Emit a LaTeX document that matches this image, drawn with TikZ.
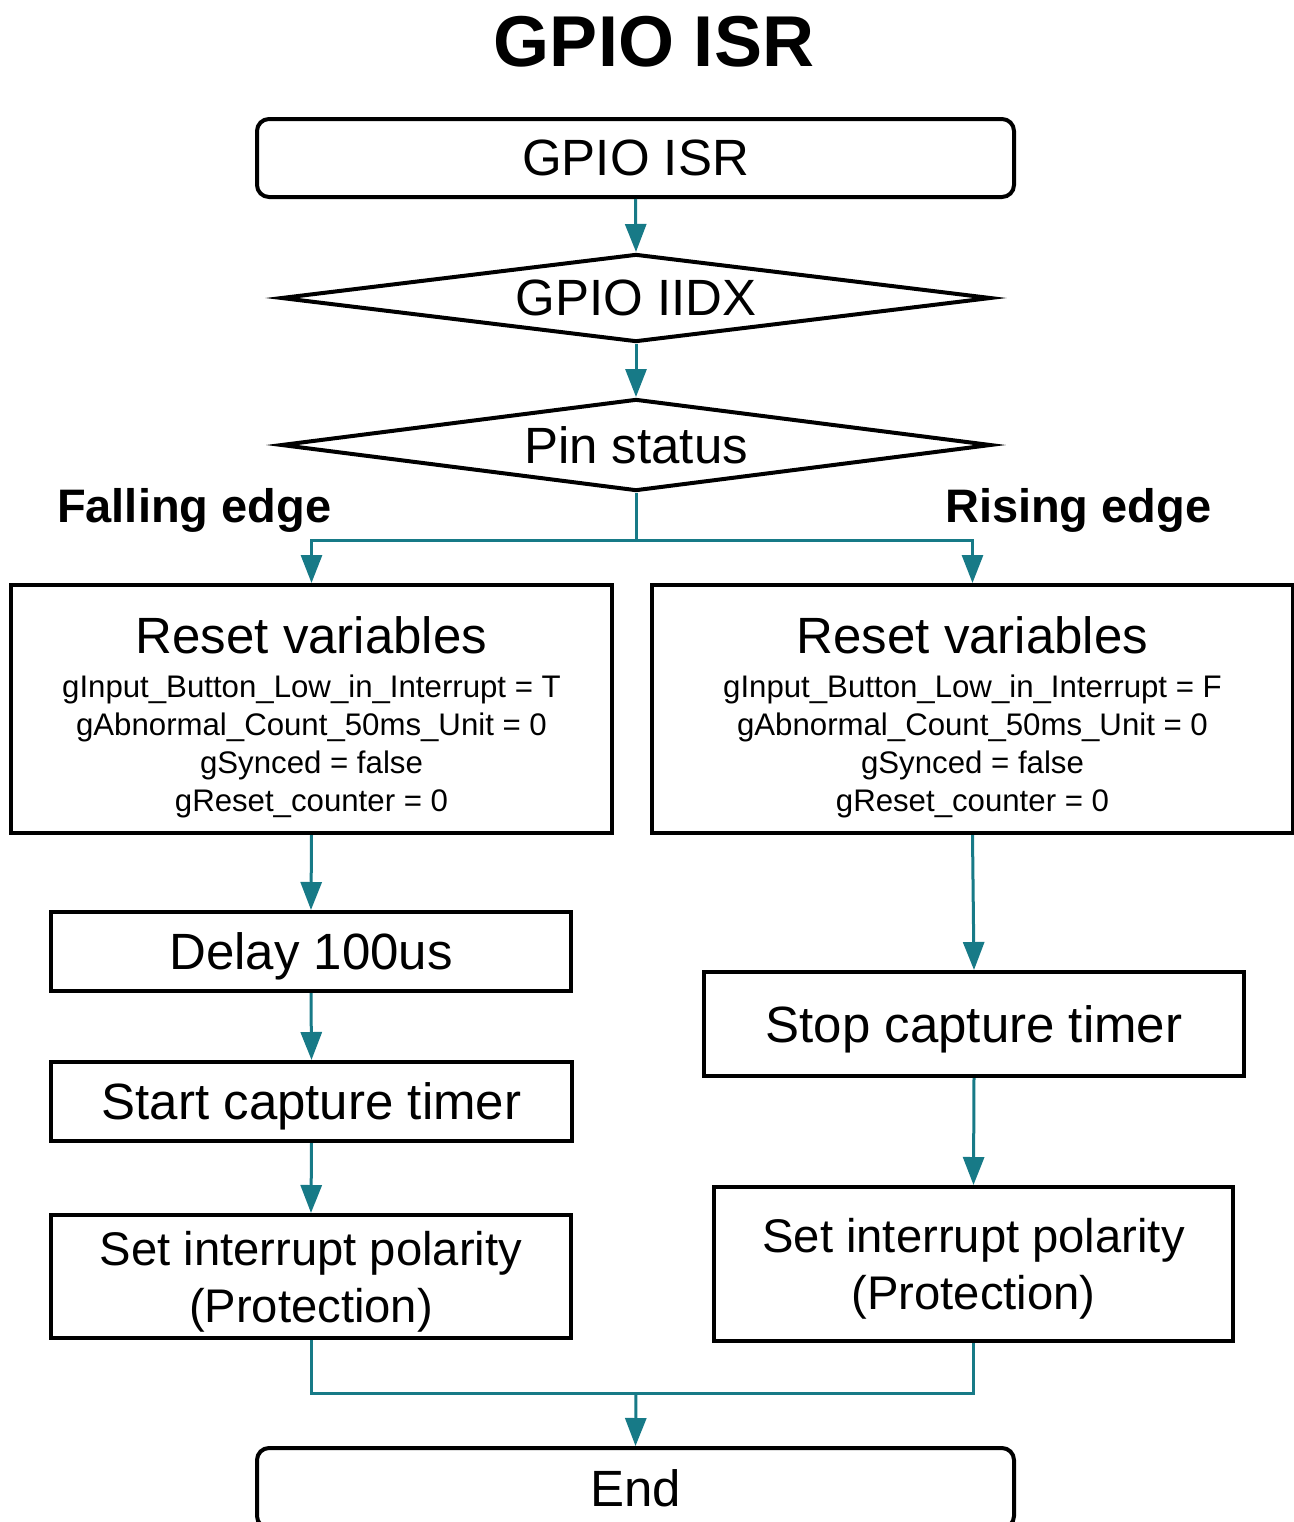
\documentclass[tikz,border=0pt]{standalone}
\usepackage{fontspec}
\setmainfont{Liberation Sans}
\usepackage{tikz}
\usetikzlibrary{shapes}
\usetikzlibrary{arrows.meta}
\definecolor{flowteal}{RGB}{23,122,135}
\newcommand{\flowbig}{\fontsize{25.5}{28.5}\selectfont}
\newcommand{\flowmid}{\fontsize{23.6}{28.5}\selectfont}
\newcommand{\flowsmall}{\fontsize{15.6}{19}\selectfont}
\tikzstyle{terminal} = [rectangle, rounded corners=6pt, minimum width=378.5pt, minimum height=39pt, text centered, text depth=0pt, draw=black, line width=2pt, font=\flowbig]
\tikzstyle{decision} = [diamond, aspect=8, inner sep=0pt, minimum width=355pt, text centered, draw=black, line width=2pt, font=\flowbig]
\tikzstyle{process} = [rectangle, text centered, text depth=0pt, align=center, draw=black, line width=2pt, font=\flowbig]
\tikzstyle{branch} = [anchor=west, font=\fontsize{23.5}{28}\selectfont\bfseries]
\tikzstyle{line} = [line width=1.5pt, draw=flowteal]
\tikzstyle{arrow} = [line width=1.5pt, draw=flowteal, -{Triangle[length=14pt, width=10.5pt]}]

\begin{document}
\begin{tikzpicture}[x=0.5pt, y=-0.5pt]
  \useasboundingbox (0,0) rectangle (1294,1522);

  \node(title)[font=\fontsize{36}{40}\selectfont\bfseries] at (654,42) {GPIO ISR};
  \node(start)[terminal] at (635.5,158) {GPIO ISR};
  \node(iidx)[decision, minimum height=44pt] at (636,298) {GPIO IIDX};
  \node(pin)[decision, minimum height=46pt] at (636,445) {Pin status};
  \node(falling)[branch] at (50,510) {Falling edge};
  \node(rising)[branch] at (938,510) {Rising edge};

  % falling edge branch
  \node(resetL)[process, minimum width=300.5pt, minimum height=124pt, font=\flowsmall] at (311.5,709)
    {\rule{0pt}{23.5pt}{\flowbig Reset variables}\\[3pt]
     gInput\_Button\_Low\_in\_Interrupt = T\\
     gAbnormal\_Count\_50ms\_Unit = 0\\
     gSynced = false\\
     gReset\_counter = 0};
  \node(delay)[process, minimum width=260pt, minimum height=39.5pt] at (311,951.5) {Delay 100us};
  \node(startcap)[process, minimum width=260.5pt, minimum height=39.5pt] at (311.5,1101.5) {Start capture timer};
  \node(setL)[process, minimum width=260pt, minimum height=61.5pt, font=\flowmid] at (311,1276.5) {Set interrupt polarity\\(Protection)};

  % rising edge branch
  \node(resetR)[process, minimum width=320.5pt, minimum height=124pt, font=\flowsmall] at (972.5,709)
    {\rule{0pt}{23.5pt}{\flowbig Reset variables}\\[3pt]
     gInput\_Button\_Low\_in\_Interrupt = F\\
     gAbnormal\_Count\_50ms\_Unit = 0\\
     gSynced = false\\
     gReset\_counter = 0};
  \node(stopcap)[process, minimum width=270pt, minimum height=52pt] at (974,1024) {Stop capture timer};
  \node(setR)[process, minimum width=259.5pt, minimum height=77pt, font=\flowmid] at (973.5,1264) {Set interrupt polarity\\(Protection)};

  \node(finish)[terminal, minimum height=40pt] at (635.5,1488) {End};

  \coordinate(split) at (636,540);
  \coordinate(merge) at (636,1393);

  \draw[arrow] (start.south) -- (iidx.north);
  \draw[arrow] (iidx.south) -- (pin.north);
  \draw[line] (pin.south) -- (split);
  \draw[arrow] (split) -| (resetL.north);
  \draw[arrow] (split) -| (resetR.north);
  \draw[arrow] (resetL.south) -- (delay.north);
  \draw[arrow] (delay.south) -- (startcap.north);
  \draw[arrow] (startcap.south) -- (setL.north);
  \draw[arrow] (resetR.south) -- (stopcap.north);
  \draw[arrow] (stopcap.south) -- (setR.north);
  \draw[line] (setL.south) |- (merge);
  \draw[line] (setR.south) |- (merge);
  \draw[arrow] (merge) -- (finish.north);

\end{tikzpicture}
\end{document}
